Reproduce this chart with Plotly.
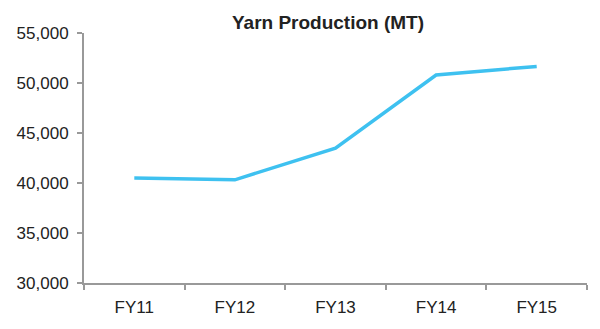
import plotly.graph_objects as go

categories = ["FY11", "FY12", "FY13", "FY14", "FY15"]
production = [40490, 40320, 43490, 50800, 51660]
y_ticks = [30000, 35000, 40000, 45000, 50000, 55000]
y_tick_labels = ["30,000", "35,000", "40,000", "45,000", "50,000", "55,000"]

fig = go.Figure()
fig.add_trace(go.Scatter(
    x=categories, y=production, mode="lines",
    line=dict(color="#3EC1F0", width=3.5),
    hoverinfo="skip",
))

fig.update_layout(
    width=600, height=329,
    margin=dict(l=84, r=13, t=33, b=44),
    paper_bgcolor="white", plot_bgcolor="white",
    showlegend=False,
    font=dict(family="Liberation Sans, Arial, sans-serif", size=17, color="#222222"),
    title=dict(
        text="<b>Yarn Production (MT)</b>",
        x=328 / 600, xref="container", xanchor="center",
        y=1 - 22 / 329, yref="container", yanchor="middle",
        font=dict(size=19, color="#222222"),
    ),
)
fig.update_xaxes(
    type="category", range=[-0.5, len(categories) - 0.5],
    showline=True, linecolor="#999999", linewidth=2,
    ticks="outside", tickson="boundaries", ticklen=5, tickcolor="#999999", tickwidth=2,
    ticklabelstandoff=8,
    showgrid=False, zeroline=False,
    tickfont=dict(size=17, color="#222222"),
)
fig.update_yaxes(
    range=[30000, 55000],
    tickvals=y_ticks, ticktext=y_tick_labels,
    showline=True, linecolor="#999999", linewidth=2,
    ticks="outside", ticklen=5, tickcolor="#999999", tickwidth=2,
    ticklabelstandoff=5,
    showgrid=False, zeroline=False,
    tickfont=dict(size=17, color="#222222"),
)

fig.write_html("out.html")
